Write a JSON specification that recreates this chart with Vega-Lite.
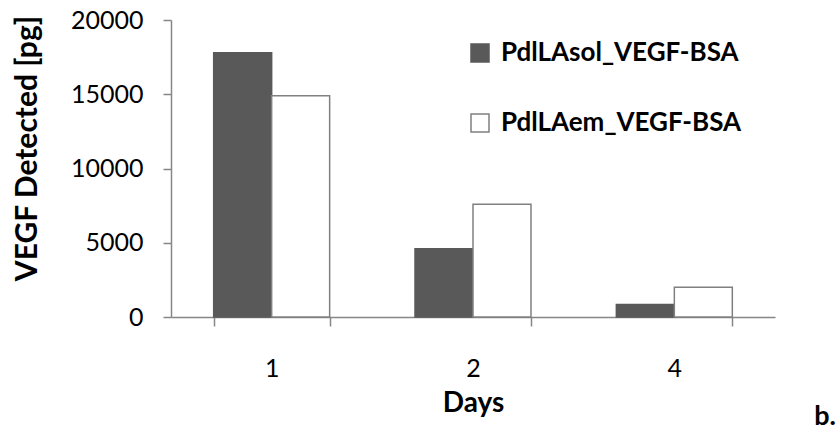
{
  "$schema": "https://vega.github.io/schema/vega-lite/v6.json",
  "width": 604,
  "height": 297,
  "autosize": {"type": "none"},
  "padding": {"left": 171, "top": 20, "right": 63, "bottom": 113},
  "config": {"view": {"stroke": null}, "font": "Lato"},
  "title": {"text": "b.", "orient": "bottom", "anchor": "end", "frame": "group", "fontSize": 27, "font": "Lato", "fontWeight": "bold", "color": "black", "dx": 61, "dy": -17},
  "data": {"values": [
    {"day": "1", "series": "PdlLAsol_VEGF-BSA", "value": 17800},
    {"day": "1", "series": "PdlLAem_VEGF-BSA", "value": 14900},
    {"day": "2", "series": "PdlLAsol_VEGF-BSA", "value": 4600},
    {"day": "2", "series": "PdlLAem_VEGF-BSA", "value": 7600},
    {"day": "4", "series": "PdlLAsol_VEGF-BSA", "value": 850},
    {"day": "4", "series": "PdlLAem_VEGF-BSA", "value": 2000}
  ]},
  "mark": {"type": "bar", "strokeWidth": 1.5},
  "encoding": {
    "x": {
      "field": "day", "type": "ordinal",
      "scale": {"paddingInner": 0.424, "paddingOuter": 0.212},
      "axis": {"title": "Days", "labelAngle": 0, "tickBand": "extent", "tickSize": 9, "tickWidth": 1.5, "domainWidth": 1.5,
        "domainColor": "#868686", "tickColor": "#868686", "labelFontSize": 25, "labelPadding": 30, "labelColor": "black",
        "titleFontSize": 28, "titleFontWeight": "bold", "titlePadding": 8, "titleColor": "black"}
    },
    "xOffset": {"field": "series", "sort": ["PdlLAsol_VEGF-BSA", "PdlLAem_VEGF-BSA"], "scale": {"paddingInner": 0, "paddingOuter": 0}},
    "y": {
      "field": "value", "type": "quantitative",
      "scale": {"domain": [0, 20000]},
      "axis": {"values": [0, 5000, 10000, 15000, 20000], "grid": false, "format": "d", "tickSize": 8, "tickWidth": 1.5, "domainWidth": 1.5,
        "domainColor": "#868686", "tickColor": "#868686", "labelFontSize": 25, "labelPadding": 20, "labelColor": "black",
        "title": "VEGF Detected [pg]", "titleFontSize": 30, "titleFontWeight": "bold", "titleColor": "black",
        "titleX": -144, "titleY": 128, "titleBaseline": "middle", "titleAngle": -90}
    },
    "fill": {
      "field": "series", "type": "nominal",
      "scale": {"domain": ["PdlLAsol_VEGF-BSA", "PdlLAem_VEGF-BSA"], "range": ["#595959", "#ffffff"]},
      "legend": {"orient": "none", "legendX": 296, "legendY": 20, "title": null, "symbolType": "square", "symbolSize": 324,
        "symbolStrokeWidth": 1.5, "labelFontSize": 26, "labelFontWeight": "bold", "labelColor": "black", "labelOffset": 8,
        "rowPadding": 44, "labelLimit": 400}
    },
    "stroke": {
      "field": "series", "type": "nominal",
      "scale": {"domain": ["PdlLAsol_VEGF-BSA", "PdlLAem_VEGF-BSA"], "range": ["#595959", "#808080"]}
    }
  }
}
